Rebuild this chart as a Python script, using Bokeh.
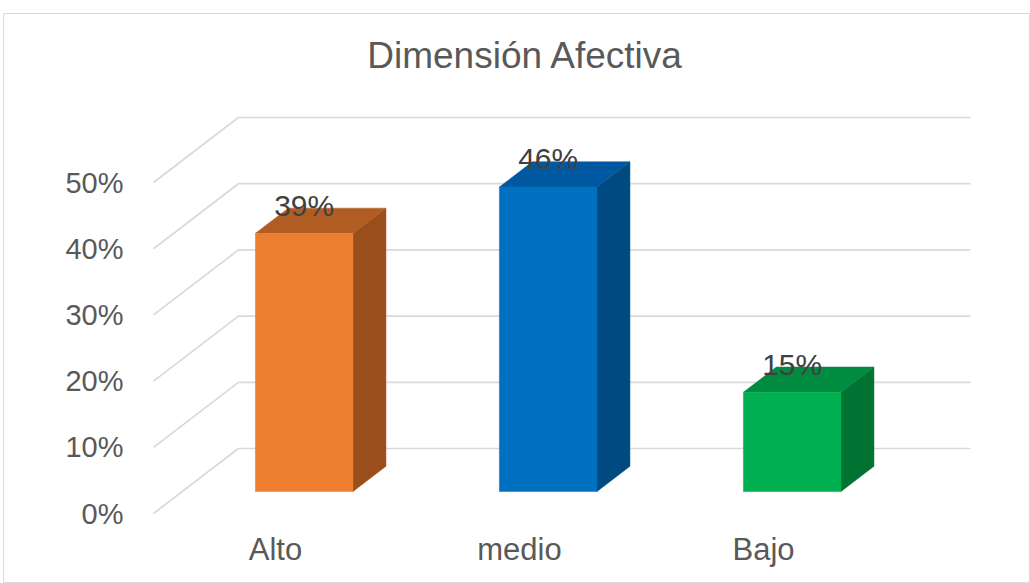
from bokeh.plotting import figure
from bokeh.models import LinearAxis, FixedTicker, NumeralTickFormatter, Range1d, ColumnDataSource
from bokeh.core.properties import value
from bokeh.embed import file_html
from bokeh.resources import INLINE

# ---- data ----
title_text = "Dimensión Afectiva"
categories = ["Alto", "medio", "Bajo"]
values = [0.39, 0.46, 0.15]
labels = ["39%", "46%", "15%"]
y_ticks = [0.0, 0.1, 0.2, 0.3, 0.4, 0.5]
front_colors = ["#ED7D31", "#0070C0", "#00B050"]
top_colors = ["#B15C22", "#0059A0", "#008C40"]
side_colors = ["#9A4E1C", "#004A82", "#007232"]

# ---- pseudo-3D geometry (style) ----
DX, DY = 0.348, 0.0982      # full depth offset (x units, y units)
D1, D2 = 0.338, 0.726       # bar front / back depth fractions
HALF = 0.2                  # bar half width
FONT = "Liberation Sans"

p = figure(width=1030, height=583, output_backend="svg", toolbar_location=None,
           x_axis_type=None, y_axis_type=None,
           x_range=Range1d(-1.1148, 3.0943), y_range=Range1d(-0.1057, 0.7553),
           min_border_left=3, min_border_right=0, min_border_top=13, min_border_bottom=0)
p.outline_line_color = "#D9D9D9"
p.outline_line_width = 1
p.background_fill_color = "white"
p.border_fill_color = "white"

n = len(categories)
x0, x1 = -0.5, n - 0.5

# gridlines: diagonal side + back wall
gx, gy = [], []
for t in y_ticks:
    gx.append([x0, x0 + DX, x1 + DX])
    gy.append([t, t + DY, t + DY])
p.multi_line(gx, gy, line_color="#D9D9D9", line_width=1.7)

# bars
fx, fy, tx, ty, sx, sy = [], [], [], [], [], []
ddx, ddy = DX * (D2 - D1), DY * (D2 - D1)
for i, v in enumerate(values):
    xl = i - HALF + DX * D1
    xr = i + HALF + DX * D1
    yb = DY * D1
    yt = v + DY * D1
    fx.append([xl, xr, xr, xl]); fy.append([yb, yb, yt, yt])
    tx.append([xl, xr, xr + ddx, xl + ddx]); ty.append([yt, yt, yt + ddy, yt + ddy])
    sx.append([xr, xr + ddx, xr + ddx, xr]); sy.append([yb, yb + ddy, yt + ddy, yt])

p.patches(sx, sy, fill_color=side_colors, line_color=side_colors, line_width=0.5)
p.patches(tx, ty, fill_color=top_colors, line_color=top_colors, line_width=0.5)
p.patches(fx, fy, fill_color=front_colors, line_color=front_colors, line_width=0.5)

# data labels
lab_src = ColumnDataSource(dict(
    x=[i + DX * D1 for i in range(n)],
    y=[v + DY * D1 + 0.0425 for v in values],
    t=labels))
p.text(x="x", y="y", text="t", source=lab_src, text_align="center", text_baseline="middle",
       text_font=value(FONT), text_font_size="30px", text_color="#404040")

# title
p.text(x=[1.025], y=[0.692], text=[title_text], text_align="center", text_baseline="middle",
       text_font=value(FONT), text_font_size="37px", text_color="#595959")

# y axis (front-left edge)
yax = LinearAxis(fixed_location=x0, ticker=FixedTicker(ticks=y_ticks),
                 formatter=NumeralTickFormatter(format="0%"))
yax.axis_line_color = None
yax.major_tick_line_color = None
yax.minor_tick_line_color = None
yax.major_tick_out = 0
yax.major_tick_in = 0
yax.major_label_standoff = 30
yax.major_label_text_font = FONT
yax.major_label_text_font_size = "29px"
yax.major_label_text_color = "#595959"
p.add_layout(yax, "left")

# x axis (categories)
xax = LinearAxis(fixed_location=0.0, ticker=FixedTicker(ticks=list(range(n))),
                 major_label_overrides={i: c for i, c in enumerate(categories)})
xax.axis_line_color = None
xax.major_tick_line_color = None
xax.minor_tick_line_color = None
xax.major_tick_out = 0
xax.major_tick_in = 0
xax.major_label_standoff = 18
xax.major_label_text_font = FONT
xax.major_label_text_font_size = "31px"
xax.major_label_text_color = "#595959"
p.add_layout(xax, "below")

open("out.html", "w").write(file_html(p, INLINE))
